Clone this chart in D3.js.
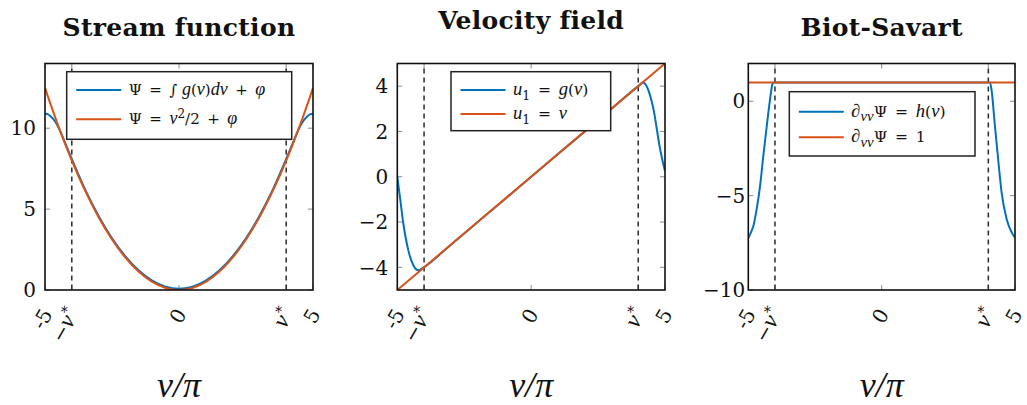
<!DOCTYPE html>
<html><head><meta charset="utf-8">
<script src="https://cdn.jsdelivr.net/npm/d3@7"></script>
<style>
body{margin:0;background:#fff}
svg{display:block}
text{font-family:"DejaVu Serif",serif;fill:#111;white-space:pre}
</style></head><body>
<svg id="chart" width="1027" height="405"></svg>
<script>
// ---- data ----
const vDomain = [-5, 5];
const vStar = 4;
const xTickValues = [-5, -vStar, 0, vStar, 5];
const xTickLabels = ["-5", "-v*", "0", "v*", "5"];

// Stream function Ψ(v)
const streamV      = [-5, -4.9, -4.8, -4.6, -4.4, -4.2, -4, -3.5, -3, -2.5, -2, -1.5, -1, -0.5, 0, 0.5, 1, 1.5, 2, 2.5, 3, 3.5, 4, 4.2, 4.4, 4.6, 4.8, 4.9, 5];
const streamG      = [10.9, 10.87, 10.75, 10.35, 9.7, 8.9, 8.1, 6.2, 4.58, 3.2, 2.08, 1.2, 0.58, 0.2, 0.08, 0.2, 0.58, 1.2, 2.08, 3.2, 4.58, 6.2, 8.1, 8.9, 9.7, 10.35, 10.75, 10.87, 10.9];
const streamQuad   = [12.5, 12.0, 11.52, 10.58, 9.68, 8.82, 8.0, 6.125, 4.5, 3.125, 2.0, 1.125, 0.5, 0.125, 0, 0.125, 0.5, 1.125, 2.0, 3.125, 4.5, 6.125, 8.0, 8.82, 9.68, 10.58, 11.52, 12.0, 12.5];
const streamYTicks = [0, 5, 10];

// Velocity field u1(v)
const velV       = [-5, -4.89, -4.78, -4.59, -4.4, -4.22, -4.03, -3, -2, -1, 0, 1, 2, 3, 4, 4.18, 4.24, 4.3, 4.4, 4.49, 4.6, 4.68, 4.8, 4.9, 5];
const velG       = [0, -1.0, -2.02, -3.24, -3.91, -4.13, -4.01, -3, -2, -1, 0, 1, 2, 3, 4, 4.16, 4.13, 4.03, 3.75, 3.39, 2.8, 2.21, 1.33, 0.75, 0.25];
const velLineV   = [-5, 0, 5];
const velLine    = [-5, 0, 5];
const velYTicks  = [-4, -2, 0, 2, 4];

// Biot-Savart ∂vvΨ(v)
const bsV        = [-5, -4.9, -4.81, -4.69, -4.56, -4.44, -4.31, -4.19, -4.09, -4.05, 0, 4.06, 4.12, 4.25, 4.37, 4.5, 4.69, 4.88, 5];
const bsH        = [-7.25, -6.95, -6.61, -5.74, -4.51, -2.93, -1.35, 0.05, 0.93, 1, 1, 1, 0.6, -1.35, -3.1, -4.86, -6.26, -6.96, -7.23];
const bsLineV    = [-5, 5];
const bsLine     = [1, 1];
const bsYTicks   = [-10, -5, 0];

const titles = ["Stream function", "Velocity field", "Biot-Savart"];
const xAxisLabel = [{t: "v", it: 1}, {t: "/", it: 1}, {t: "π", it: 1}];

const BLUE = "#0072BD", ORANGE = "#D95319";
const MATH_IT = "'Liberation Serif', serif";
const SP = "\u2002"; // en space around relations in legend formulas

// ---- layout ----
const svg = d3.select("#chart");
const panels = [
  {
    left: 45, top: 63.5, width: 268, height: 226.5, yDomain: [0, 14], yTicks: streamYTicks,
    yLabelGap: 9, titleY: 36,
    series: [
      {v: streamV, y: streamG, color: BLUE},
      {v: streamV, y: streamQuad, color: ORANGE}
    ],
    legend: {dx: 21.7, dy: 8.2, w: 225, h: 67.6, row0: 18.3, rowGap: 29.3, size: 15,
      rows: [
        [{t: "Ψ" + SP + "=" + SP + "∫ "}, {t: "g", it: 1}, {t: "("}, {t: "v", it: 1}, {t: ")"}, {t: "dv", it: 1}, {t: SP + "+" + SP}, {t: "φ", it: 1}],
        [{t: "Ψ" + SP + "=" + SP}, {t: "v", it: 1}, {t: "2", sup: 1}, {t: "/2" + SP + "+" + SP}, {t: "φ", it: 1}]
      ]}
  },
  {
    left: 397.3, top: 63.5, width: 267.7, height: 226.5, yDomain: [-5, 5], yTicks: velYTicks,
    yLabelGap: 9, titleY: 29,
    series: [
      {v: velV, y: velG, color: BLUE},
      {v: velLineV, y: velLine, color: ORANGE}
    ],
    legend: {dx: 53.7, dy: 8.2, w: 159.7, h: 59, row0: 18.3, rowGap: 24, size: 15.5,
      rows: [
        [{t: "u", it: 1}, {t: "1", sub: 1}, {t: SP + "=" + SP}, {t: "g", it: 1}, {t: "("}, {t: "v", it: 1}, {t: ")"}],
        [{t: "u", it: 1}, {t: "1", sub: 1}, {t: SP + "=" + SP}, {t: "v", it: 1}]
      ]}
  },
  {
    left: 748.3, top: 63.5, width: 266.7, height: 226.5, yDomain: [-10, 2], yTicks: bsYTicks,
    yLabelGap: 3, titleY: 36,
    series: [
      {v: bsV, y: bsH, color: BLUE},
      {v: bsLineV, y: bsLine, color: ORANGE}
    ],
    legend: {dx: 41, dy: 28.2, w: 185.7, h: 64.3, row0: 20, rowGap: 25.6, size: 15.5,
      rows: [
        [{t: "∂", it: 1}, {t: "vv", it: 1, sub: 1}, {t: "Ψ" + SP + "=" + SP}, {t: "h", it: 1}, {t: "("}, {t: "v", it: 1}, {t: ")"}],
        [{t: "∂", it: 1}, {t: "vv", it: 1, sub: 1}, {t: "Ψ" + SP + "=" + SP + "1"}]
      ]}
  }
];

// rich text: italic, superscript and subscript runs
function rich(sel, parts, size, subScale) {
  const ss = subScale || 0.72;
  let shift = 0;
  parts.forEach(p => {
    const target = p.sup ? -size * 0.42 : p.sub ? size * 0.3 : 0;
    let fs = (p.sup || p.sub) ? size * ss : size;
    if (p.it) fs *= 1.2;
    const ts = sel.append("tspan")
      .text(p.t)
      .attr("dy", target - shift)
      .style("font-size", fs + "px")
      .style("font-style", p.it ? "italic" : "normal");
    if (p.it) ts.style("font-family", MATH_IT);
    shift = target;
  });
}

const tickLabelParts = {
  "-5": [{t: "-5"}],
  "-v*": [{t: "−"}, {t: "v", it: 1}, {t: "*", sup: 1}],
  "0": [{t: "0"}],
  "v*": [{t: "v", it: 1}, {t: "*", sup: 1}],
  "5": [{t: "5"}]
};

panels.forEach((p, i) => {
  const x = d3.scaleLinear().domain(vDomain).range([p.left, p.left + p.width]);
  const y = d3.scaleLinear().domain(p.yDomain).range([p.top + p.height, p.top]);
  const g = svg.append("g");
  const bottom = p.top + p.height;

  const clipId = "clip" + i;
  svg.append("clipPath").attr("id", clipId).append("rect")
    .attr("x", p.left).attr("y", p.top).attr("width", p.width).attr("height", p.height);

  // inward tick marks on all four sides
  const tl = 5;
  p.yTicks.forEach(t => {
    g.append("line").attr("x1", p.left).attr("x2", p.left + tl).attr("y1", y(t)).attr("y2", y(t))
      .attr("stroke", "#8a8a8a").attr("stroke-width", 1);
    g.append("line").attr("x1", p.left + p.width).attr("x2", p.left + p.width - tl).attr("y1", y(t)).attr("y2", y(t))
      .attr("stroke", "#8a8a8a").attr("stroke-width", 1);
  });
  xTickValues.forEach(t => {
    g.append("line").attr("x1", x(t)).attr("x2", x(t)).attr("y1", bottom).attr("y2", bottom - tl)
      .attr("stroke", "#8a8a8a").attr("stroke-width", 1);
    g.append("line").attr("x1", x(t)).attr("x2", x(t)).attr("y1", p.top).attr("y2", p.top + tl)
      .attr("stroke", "#8a8a8a").attr("stroke-width", 1);
  });

  // dashed markers at ±v*
  [-vStar, vStar].forEach(t => {
    g.append("line").attr("x1", x(t)).attr("x2", x(t)).attr("y1", p.top + tl).attr("y2", bottom)
      .attr("stroke", "#2a2a2a").attr("stroke-width", 1.5).attr("stroke-dasharray", "5,4");
  });

  // curves
  const line = d3.line().curve(d3.curveMonotoneX);
  p.series.forEach(s => {
    const pts = s.v.map((v, k) => [x(v), y(s.y[k])]);
    g.append("path").attr("d", line(pts)).attr("fill", "none")
      .attr("stroke", s.color).attr("stroke-width", 2)
      .attr("clip-path", `url(#${clipId})`);
  });

  // legend
  const L = p.legend;
  const lg = g.append("g").attr("transform", `translate(${p.left + L.dx},${p.top + L.dy})`);
  lg.append("rect").attr("width", L.w).attr("height", L.h).attr("fill", "#fff")
    .attr("stroke", "#222").attr("stroke-width", 1.5);
  L.rows.forEach((row, r) => {
    const ry = L.row0 + r * L.rowGap;
    lg.append("line").attr("x1", 9.5).attr("x2", 54.5).attr("y1", ry).attr("y2", ry)
      .attr("stroke", p.series[r].color).attr("stroke-width", 2);
    const tx = lg.append("text").attr("x", 62).attr("y", ry + 5);
    rich(tx, row, L.size, 0.8);
  });

  // frame
  g.append("rect").attr("x", p.left).attr("y", p.top).attr("width", p.width).attr("height", p.height)
    .attr("fill", "none").attr("stroke", "#111").attr("stroke-width", 1.6);

  // y tick labels
  p.yTicks.forEach(t => {
    g.append("text").attr("x", p.left - p.yLabelGap).attr("y", y(t)).attr("dy", "0.36em")
      .attr("text-anchor", "end").style("font-size", "20px")
      .text(t < 0 ? "−" + Math.abs(t) : String(t));
  });

  // rotated x tick labels
  xTickValues.forEach((t, k) => {
    const tx = g.append("text")
      .attr("transform", `translate(${x(t) + 8},${bottom + 24}) rotate(-60)`)
      .attr("text-anchor", "end").attr("dy", "0.35em");
    rich(tx, tickLabelParts[xTickLabels[k]], 20);
  });

  // x axis label
  const xl = g.append("text").attr("x", p.left + p.width / 2).attr("y", 397).attr("text-anchor", "middle");
  rich(xl, xAxisLabel, 30);

  // title
  g.append("text").attr("x", p.left + p.width / 2).attr("y", p.titleY).attr("text-anchor", "middle")
    .style("font-size", "25px").style("font-weight", "bold").style("letter-spacing", "0.3px").text(titles[i]);
});
</script>
</body></html>
